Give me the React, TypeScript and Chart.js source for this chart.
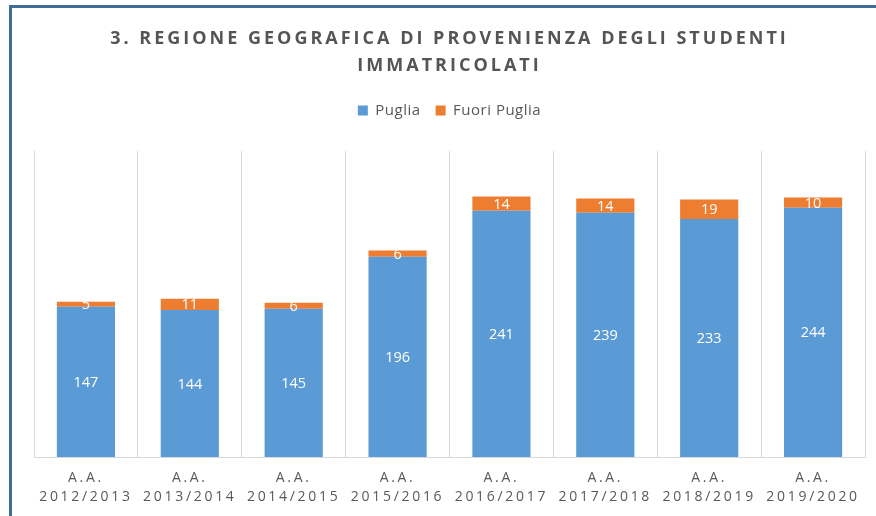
import React, { useEffect, useRef } from "react";
import { Chart, registerables } from "chart.js";

Chart.register(...registerables);

const titleLines = ["3. REGIONE GEOGRAFICA DI PROVENIENZA DEGLI STUDENTI", "IMMATRICOLATI"];
const yearLabels = ["2012/2013", "2013/2014", "2014/2015", "2015/2016", "2016/2017", "2017/2018", "2018/2019", "2019/2020"];
const yearPrefix = "A.A.";
const seriesNames = ["Puglia", "Fuori Puglia"];
const puglia = [147, 144, 145, 196, 241, 239, 233, 244];
const fuoriPuglia = [5, 11, 6, 6, 14, 14, 19, 10];
const yMin = 0;
const yMax = 300;

const FONT = "'Open Sans', 'Noto Sans', sans-serif";
const TEXT = "#595959";

export default function App() {
  const ref = useRef<HTMLCanvasElement>(null);

  useEffect(() => {
    if (!ref.current) return;
    const spacingPlugin = {
      id: "spacingAndLabels",
      afterInit(chart: any) {
        const wrap = (obj: any, spacing: string) => {
          if (!obj) return;
          const orig = obj.draw.bind(obj);
          obj.draw = (area: any) => {
            const ctx = chart.ctx;
            const prev = ctx.letterSpacing;
            ctx.letterSpacing = spacing;
            orig(area);
            ctx.letterSpacing = prev;
          };
        };
        wrap(chart.titleBlock, "3px");
        wrap(chart.legend, "0.5px");
      },
      beforeUpdate(chart: any) {
        chart.ctx.letterSpacing = "0.5px";
      },
      afterUpdate(chart: any) {
        chart.ctx.letterSpacing = "0px";
      },
      afterDatasetsDraw(chart: any) {
        const ctx = chart.ctx;
        ctx.save();
        ctx.letterSpacing = "0px";
        ctx.fillStyle = "#ffffff";
        ctx.font = `14.5px ${FONT}`;
        ctx.textAlign = "center";
        ctx.textBaseline = "middle";
        chart.data.datasets.forEach((ds: any, i: number) => {
          const meta = chart.getDatasetMeta(i);
          meta.data.forEach((el: any, j: number) => {
            const { x, y, base } = el.getProps(["x", "y", "base"], true);
            ctx.fillText(String(ds.data[j]), x, (y + base) / 2 + 1);
          });
        });
        ctx.restore();
        ctx.letterSpacing = "2.7px";
      },
      afterDraw(chart: any) {
        chart.ctx.letterSpacing = "0px";
      },
    };

    const chart = new Chart(ref.current, {
      type: "bar",
      data: {
        labels: yearLabels.map((y) => [yearPrefix, y]),
        datasets: [
          {
            label: seriesNames[0],
            data: puglia,
            backgroundColor: "#5b9bd5",
            barPercentage: 0.56,
            categoryPercentage: 1,
          },
          {
            label: seriesNames[1],
            data: fuoriPuglia,
            backgroundColor: "#ed7d31",
            barPercentage: 0.56,
            categoryPercentage: 1,
          },
        ],
      },
      options: {
        animation: false,
        responsive: true,
        maintainAspectRatio: false,
        layout: { padding: { left: 34, right: 11, top: 25, bottom: -3 } },
        plugins: {
          title: {
            display: true,
            text: titleLines,
            color: "#555555",
            font: { family: FONT, size: 18, weight: "bold", lineHeight: "27px" },
            padding: { top: 0, bottom: 9 },
          },
          subtitle: {
            display: true,
            text: "",
            weight: 500,
            font: { family: FONT, size: 10, lineHeight: 1.2 },
            padding: { top: 0, bottom: 10.5 },
          } as any,
          legend: {
            display: true,
            position: "top",
            labels: {
              color: TEXT,
              font: { family: FONT, size: 15 },
              boxWidth: 10,
              boxHeight: 10,
              padding: 15,
            },
          },
          tooltip: { enabled: false },
        },
        scales: {
          x: {
            stacked: true,
            grid: { display: true, color: "#d9d9d9", drawTicks: false, offset: true },
            border: { display: true, color: "#d9d9d9" },
            ticks: {
              color: TEXT,
              font: { family: FONT, size: 14, lineHeight: "19px" },
              padding: 12,
              maxRotation: 0,
              minRotation: 0,
              autoSkip: false,
              z: 1,
            },
          },
          y: {
            stacked: true,
            display: false,
            min: yMin,
            max: yMax,
          },
        },
      },
      plugins: [spacingPlugin as any],
    });
    return () => chart.destroy();
  }, []);

  return (
    <div style={{ position: "absolute", left: 0, top: 0, width: 876, height: 516, background: "#ffffff", overflow: "hidden" }}>
      <div
        style={{
          position: "absolute",
          left: 9,
          top: 5,
          width: 880,
          height: 520,
          borderLeft: "3px solid #3e6d98",
          borderTop: "3px solid #3e6d98",
          boxSizing: "border-box",
        }}
      />
      <div style={{ position: "absolute", left: 0, top: 0, width: 876, height: 516 }}>
        <canvas ref={ref} />
      </div>
    </div>
  );
}
